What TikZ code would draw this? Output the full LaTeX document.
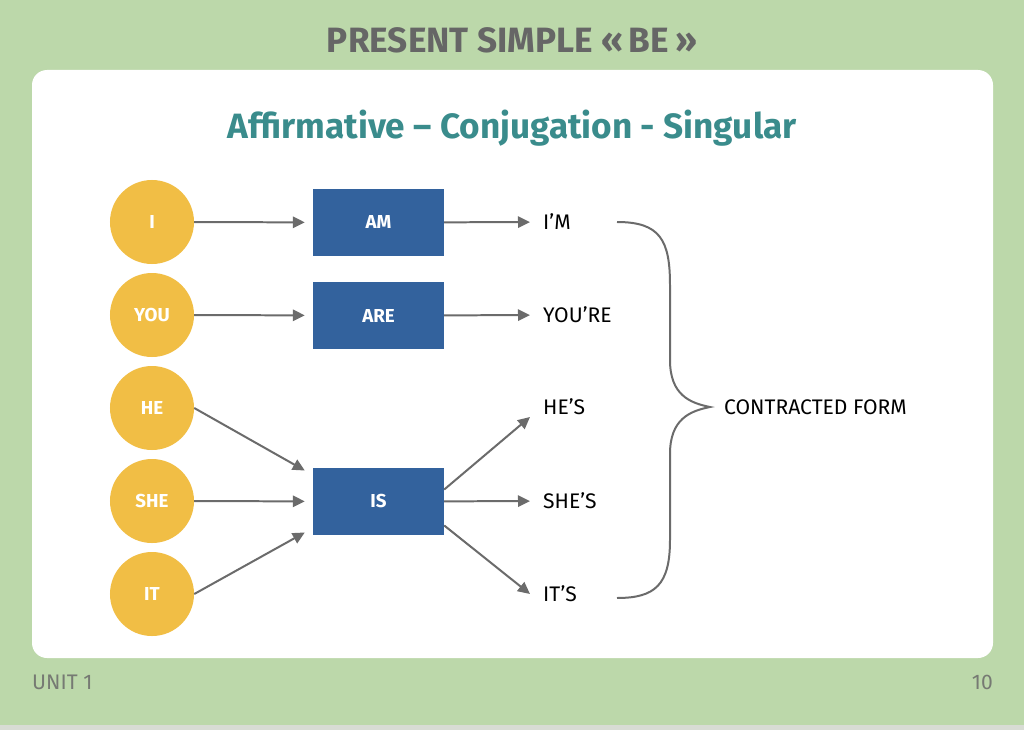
\documentclass[tikz,border=0pt]{standalone}
\usepackage{fontspec}
\setmainfont{Fira Sans}
\usetikzlibrary{arrows.meta, calc, positioning}

\definecolor{slidegreen}{HTML}{BCD8AA}
\definecolor{stripgray}{HTML}{D8DCD4}
\definecolor{titlegray}{HTML}{666666}
\definecolor{subteal}{HTML}{3A8C8C}
\definecolor{pronyellow}{HTML}{F1BE45}
\definecolor{verbblue}{HTML}{33629D}
\definecolor{linkgray}{HTML}{6B6B6B}
\definecolor{footgray}{HTML}{767A73}

\begin{document}
\begin{tikzpicture}[x=0.03cm, y=-0.03cm, node distance=2.79cm]
    \tikzstyle{pron} = [circle, fill=pronyellow, minimum size=2.52cm, inner sep=0pt,
                        text=white, font=\bfseries\fontsize{16}{16}\selectfont]
    \tikzstyle{verb} = [rectangle, fill=verbblue, minimum width=3.93cm, minimum height=2.01cm,
                        text=white, font=\bfseries\fontsize{16}{16}\selectfont]
    \tikzstyle{contr} = [anchor=west, inner xsep=0.39cm, inner ysep=0pt,
                         font=\fontsize{18}{18}\selectfont]
    \tikzstyle{link} = [-{Triangle[length=0.36cm, width=0.34cm]}, line width=1.7pt, draw=linkgray, fill=linkgray]

    % slide background and white card
    \fill[slidegreen] (0,0) rectangle (1024,730);
    \fill[stripgray] (0,725) rectangle (1024,730);
    \fill[white, rounded corners=0.45cm] (32,70) rectangle (993,658);

    \node (title) at (512,40) [text=titlegray, font=\bfseries\fontsize{30}{30}\selectfont]
        {PRESENT SIMPLE «\,BE\,»};
    \node (sub) at (512,128) [text=subteal, font=\bfseries\fontsize{30}{30}\selectfont]
        {Affirmative -- Conjugation - Singular};

    % pronouns
    \node (i)   [pron] at (152,222) {I};
    \node (you) [pron, below of=i]   {YOU};
    \node (he)  [pron, below of=you] {HE};
    \node (she) [pron, below of=he]  {SHE};
    \node (it)  [pron, below of=she] {IT};

    % verb forms
    \node (am)  [verb] at (378.5,222.5) {AM};
    \node (are) [verb, below of=am]     {ARE};
    \node (is)  [verb] at (378.5,501.5) {IS};

    % contractions
    \node (im)    [contr] at (530,222) {I’M};
    \node (youre) [contr] at (530,315) {YOU’RE};
    \node (hes)   [contr] at (530,407) {HE’S};
    \node (shes)  [contr] at (530,501) {SHE’S};
    \node (its)   [contr] at (530,594) {IT’S};

    \draw [link, shorten >=0.24cm] (i) -- (am);
    \draw [link, shorten >=0.24cm] (you) -- (are);
    \draw [link] (he.east) -- ($(is.west)+(-8,-31)$);
    \draw [link, shorten >=0.24cm] (she) -- (is);
    \draw [link] (it.east) -- ($(is.west)+(-8,31)$);

    \draw [link] (am) -- (im);
    \draw [link] (are) -- (youre);
    \draw [link] ($(is.east)+(0,-12)$) -- ($(hes.west)+(0,10)$);
    \draw [link] (is) -- (shes);
    \draw [link] ($(is.east)+(0,24)$) -- (its.west);

    % brace
    \coordinate (bt)  at (617,222);
    \coordinate (bb)  at (617,598);
    \coordinate (tip) at (710,407);
    \draw [line width=1.7pt, draw=linkgray]
        (bt) .. controls (660,222) and (670,240) .. (670,285) -- (670,360)
        .. controls (670,395) and (690,403) .. (tip)
        .. controls (690,411) and (670,419) .. (670,454) -- (670,540)
        .. controls (670,585) and (655,598) .. (bb);
    \node (cf) [contr, inner xsep=0.42cm] at (tip) {CONTRACTED FORM};

    % footer
    \node (unit) [anchor=west, inner sep=0pt, text=footgray, font=\fontsize{18}{18}\selectfont]
        at (32,682) {UNIT 1};
    \node (page) [anchor=east, inner sep=0pt, text=footgray, font=\fontsize{18}{18}\selectfont]
        at (993,682) {10};
\end{tikzpicture}
\end{document}
